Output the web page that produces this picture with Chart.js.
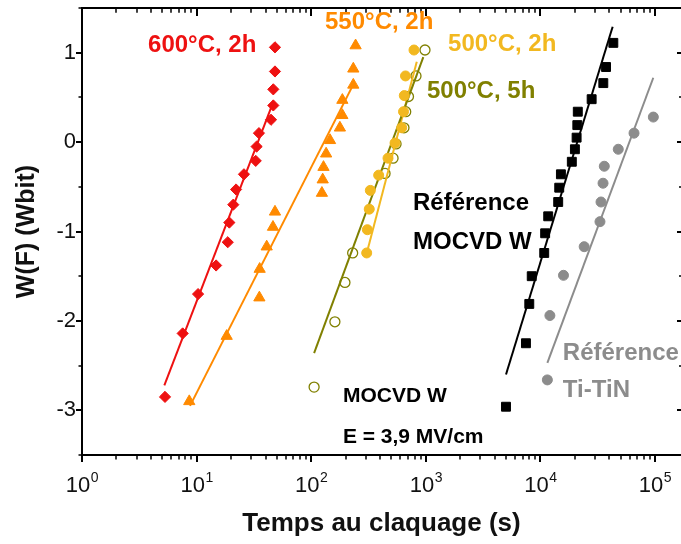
<!DOCTYPE html>
<html>
<head>
<meta charset="utf-8">
<script src="https://cdn.jsdelivr.net/npm/chart.js@4.4.1/dist/chart.umd.min.js"></script>
<style>
  html, body { margin: 0; padding: 0; background: #fff; }
  #c { display: block; }
</style>
</head>
<body>
<canvas id="c" width="681" height="544"></canvas>
<script>
// Weibull plot: W(F) vs time to breakdown (log x)

/* ---------- data ---------- */
const red600T = [48.3, 48.3, 46.7, 46.7, 44.6, 35.0, 33.4, 32.8, 25.9, 22.1, 20.9, 19.3, 18.7, 14.8, 10.3, 7.56, 5.30];
const red600W = [1.06, 0.79, 0.59, 0.41, 0.25, 0.10, -0.05, -0.21, -0.36, -0.53, -0.70, -0.90, -1.12, -1.38, -1.70, -2.14, -2.85];

const orange550T = [244, 233, 233, 187, 187, 178, 146, 135, 128, 126, 124, 48.3, 46.4, 40.9, 35.5, 35.3, 18.3, 8.63];
const orange550W = [1.08, 0.82, 0.64, 0.47, 0.30, 0.16, 0.02, -0.13, -0.28, -0.42, -0.57, -0.78, -0.95, -1.17, -1.42, -1.74, -2.17, -2.90];

const gold500T = [789, 665, 649, 639, 616, 539, 468, 388, 328, 321, 309, 305];
const gold500W = [1.03, 0.74, 0.52, 0.34, 0.16, -0.01, -0.18, -0.37, -0.54, -0.75, -0.98, -1.24];

const olive5hT = [984, 821, 706, 668, 645, 550, 518, 441, 230, 197, 161, 106];
const olive5hW = [1.03, 0.74, 0.51, 0.34, 0.16, -0.02, -0.18, -0.35, -1.24, -1.57, -2.01, -2.74];

const refWT = [43300, 37400, 35400, 28000, 21200, 21000, 20700, 20000, 18800, 15100, 14600, 14300, 11700, 11000, 10800, 8400, 8000, 7480, 5010];
const refWW = [1.11, 0.84, 0.66, 0.48, 0.34, 0.19, 0.05, -0.08, -0.22, -0.36, -0.51, -0.67, -0.83, -1.02, -1.24, -1.50, -1.81, -2.25, -2.96];

const refTiT = [96700, 65600, 47800, 36100, 35200, 33800, 33100, 24100, 15900, 12100, 11500];
const refTiW = [0.28, 0.10, -0.08, -0.27, -0.46, -0.67, -0.89, -1.17, -1.49, -1.94, -2.66];

// fitted lines (end points)
const fitRedT = [5.23, 46.1],    fitRedW = [-2.72, 0.43];
const fitOrangeT = [8.76, 232],  fitOrangeW = [-2.95, 0.64];
const fitGoldT = [310, 834],     fitGoldW = [-1.21, 0.90];
const fitOliveT = [106, 951],    fitOliveW = [-2.36, 0.95];
const fitRefWT = [5010, 42700],  fitRefWW = [-2.60, 1.29];
const fitRefTiT = [11500, 96600], fitRefTiW = [-2.47, 0.72];

const xTickValues = [1, 10, 100, 1000, 10000, 100000];
const xTickExps = ['0', '1', '2', '3', '4', '5'];
const yTickValues = [-3, -2, -1, 0, 1];

// text labels placed in data coordinates
const noteTexts = ['600°C, 2h', '550°C, 2h', '500°C, 2h', '500°C, 5h', 'Référence', 'MOCVD W', 'MOCVD W', 'E = 3,9 MV/cm', 'Référence', 'Ti-TiN'];
const noteT = [3.77, 132, 1563, 1024, 773, 773, 189, 189, 15700, 15700];
const noteW = [1.08, 1.34, 1.09, 0.57, -0.68, -1.12, -2.84, -3.30, -2.36, -2.78];

/* ---------- styles ---------- */
const RED = '#ee1111', ORANGE = '#ff8a00', GOLD = '#f2b820', OLIVE = '#808000', BLACK = '#000000', GRAY = '#8c8c8c';
const noteColors = [RED, ORANGE, GOLD, OLIVE, BLACK, BLACK, BLACK, BLACK, GRAY, GRAY];
const noteSizes = [24, 24, 24, 24, 24, 24, 21, 21, 24, 24];
const FONT = '"Liberation Sans", Arial, Helvetica, sans-serif';

const pts = (xs, ys) => xs.map((x, i) => ({ x, y: ys[i] }));

function markers(data, color, style, radius, order, filled = true) {
  return {
    data, order,
    showLine: false,
    pointStyle: style,
    pointRadius: radius,
    pointBackgroundColor: filled ? color : 'rgba(0,0,0,0)',
    pointBorderColor: color,
    pointBorderWidth: filled ? 1 : 1.3
  };
}
function fitLine(data, color, order) {
  return { data, order, showLine: true, borderColor: color, borderWidth: 2, pointRadius: 0, fill: false };
}

/* ---------- plugins ---------- */
// top frame line, minor/major ticks on all sides, 10^n labels, text notes
const frameTicks = {
  id: 'frameTicks',
  afterDraw(chart) {
    const { ctx, chartArea: a } = chart;
    const xs = chart.scales.x, ys = chart.scales.y;
    const seg = (x1, y1, x2, y2, w) => { ctx.lineWidth = w; ctx.beginPath(); ctx.moveTo(x1, y1); ctx.lineTo(x2, y2); ctx.stroke(); };
    ctx.save();
    ctx.strokeStyle = '#000';
    seg(a.left - 1, a.top, a.right, a.top, 2);

    // x: bottom outward, top inward
    for (const d of xTickValues) {
      for (let m = 1; m <= 9; m++) {
        const v = d * m;
        if (v > xs.max) break;
        const px = Math.round(xs.getPixelForValue(v));
        const major = m === 1;
        seg(px, a.bottom, px, a.bottom + (major ? 7 : 4.5), major ? 2 : 1.5);
        seg(px, a.top, px, a.top + (major ? 8 : 4.7), major ? 2 : 1.5);
      }
    }
    // y: left outward, right inward (right axis line itself lies past the edge)
    for (let v = -3.5; v <= 1.5; v += 0.5) {
      const py = Math.round(ys.getPixelForValue(v));
      const major = Number.isInteger(v);
      seg(a.left - (major ? 6 : 3.5), py, a.left, py, major ? 2 : 1.5);
      seg(a.right - (major ? 4 : 2), py, a.right, py, major ? 2 : 1.5);
    }

    // x tick labels 10^n
    ctx.fillStyle = '#111';
    ctx.textBaseline = 'alphabetic';
    ctx.textAlign = 'left';
    xTickValues.forEach((v, i) => {
      const px = xs.getPixelForValue(v);
      ctx.font = '22px ' + FONT;
      const w1 = ctx.measureText('10').width;
      ctx.font = '14px ' + FONT;
      const w2 = ctx.measureText(xTickExps[i]).width;
      const x0 = px - (w1 + w2) / 2;
      ctx.font = '22px ' + FONT;
      ctx.fillText('10', x0, 492);
      ctx.font = '14px ' + FONT;
      ctx.fillText(xTickExps[i], x0 + w1 + 0.5, 482);
    });

    // notes
    ctx.textBaseline = 'middle';
    noteTexts.forEach((t, i) => {
      ctx.font = 'bold ' + noteSizes[i] + 'px ' + FONT;
      ctx.fillStyle = noteColors[i];
      ctx.fillText(t, xs.getPixelForValue(noteT[i]), ys.getPixelForValue(noteW[i]));
    });
    ctx.restore();
  }
};

/* ---------- chart ---------- */
new Chart(document.getElementById('c'), {
  type: 'scatter',
  data: {
    datasets: [
      markers(pts(refTiT, refTiW), GRAY, 'circle', 5, 5),
      markers(pts(refWT, refWW), BLACK, 'rect', 6.3, 5),
      markers(pts(olive5hT, olive5hW), OLIVE, 'circle', 5, 6, false),
      markers(pts(gold500T, gold500W), GOLD, 'circle', 5, 3),
      markers(pts(orange550T, orange550W), ORANGE, 'triangle', 6.5, 5),
      markers(pts(red600T, red600W), RED, 'rectRot', 5.6, 5),
      fitLine(pts(fitRefTiT, fitRefTiW), GRAY, 4),
      fitLine(pts(fitRefWT, fitRefWW), BLACK, 4),
      fitLine(pts(fitOliveT, fitOliveW), OLIVE, 4),
      fitLine(pts(fitGoldT, fitGoldW), GOLD, 4),
      fitLine(pts(fitOrangeT, fitOrangeW), ORANGE, 4),
      fitLine(pts(fitRedT, fitRedW), RED, 4)
    ]
  },
  options: {
    responsive: false,
    animation: false,
    devicePixelRatio: 1,
    layout: { autoPadding: false, padding: { top: 8, right: 0, left: 0, bottom: 0 } },
    plugins: { legend: { display: false }, tooltip: { enabled: false } },
    scales: {
      x: {
        type: 'logarithmic',
        min: 1,
        max: Math.pow(10, 599 / 114.6),
        afterBuildTicks: (s) => { s.ticks = xTickValues.map(v => ({ value: v })); },
        afterFit: (s) => { s.height = 89; s.paddingLeft = 0; s.paddingRight = 0; },
        ticks: { display: false },
        grid: { display: false, drawTicks: false },
        border: { display: true, color: '#000', width: 2 },
        title: {
          display: true, text: 'Temps au claquage (s)', color: '#111',
          font: { family: FONT, size: 26, weight: 'bold' },
          padding: { top: 0, bottom: 5 }
        }
      },
      y: {
        min: -3.5,
        max: 1.5,
        afterBuildTicks: (s) => { s.ticks = yTickValues.map(v => ({ value: v })); },
        afterFit: (s) => { s.width = 82; s.paddingTop = 0; s.paddingBottom = 0; },
        ticks: {
          color: '#111', padding: 6,
          font: { family: FONT, size: 22 },
          callback: (v) => String(v)
        },
        grid: { display: false, drawTicks: false },
        border: { display: true, color: '#000', width: 2 },
        title: {
          display: true, text: 'W(F) (Wbit)', color: '#111',
          font: { family: FONT, size: 25, weight: 'bold' },
          padding: { top: 12, bottom: 0 }
        }
      }
    }
  },
  plugins: [frameTicks]
});
</script>
</body>
</html>
